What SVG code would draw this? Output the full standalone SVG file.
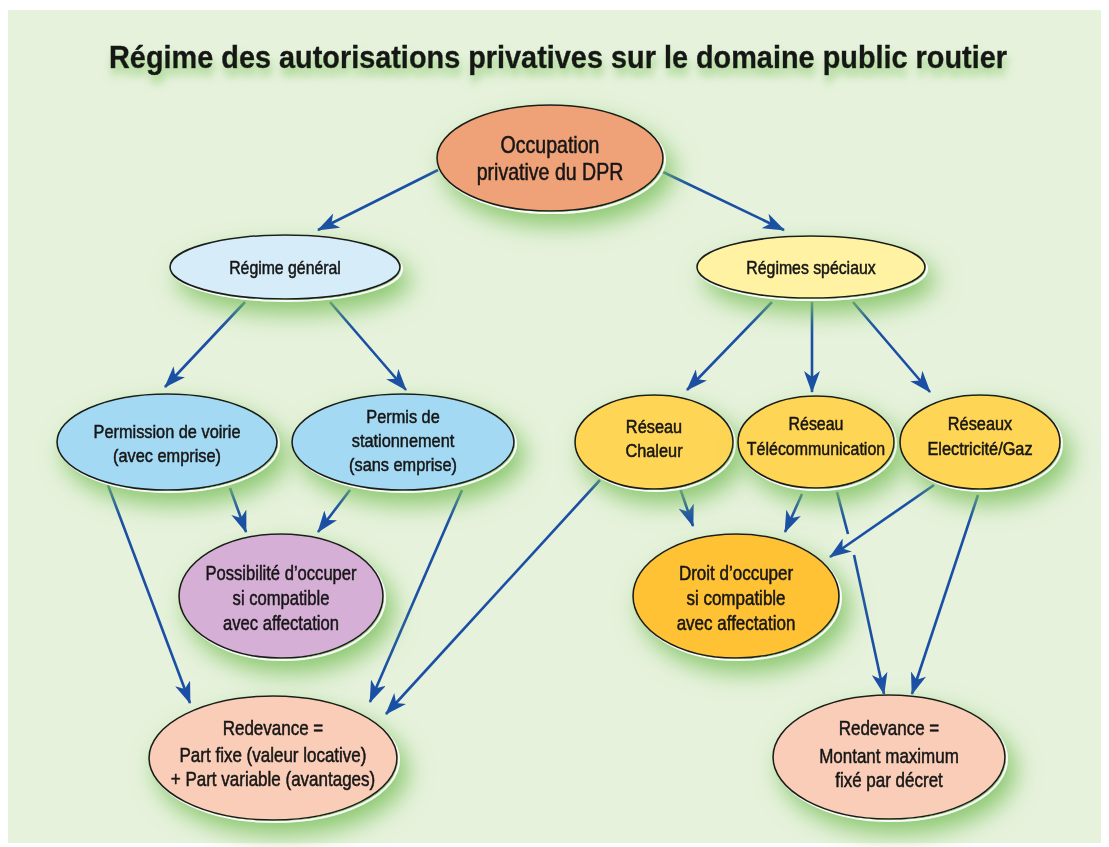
<svg xmlns="http://www.w3.org/2000/svg" width="1109" height="847" viewBox="0 0 1109 847">
<defs>
<filter id="glow" x="-40%" y="-40%" width="190%" height="200%">
<feGaussianBlur in="SourceAlpha" stdDeviation="12" result="b"/>
<feOffset in="b" dx="8" dy="12" result="o"/>
<feFlood flood-color="#7FC260" flood-opacity="0.9"/>
<feComposite in2="o" operator="in" result="s"/>
<feMerge><feMergeNode in="s"/><feMergeNode in="SourceGraphic"/></feMerge>
</filter>
<filter id="tglow" x="-5%" y="-50%" width="110%" height="220%">
<feGaussianBlur in="SourceAlpha" stdDeviation="4" result="b"/>
<feOffset in="b" dx="2" dy="8" result="o"/>
<feFlood flood-color="#8FCB74" flood-opacity="0.8"/>
<feComposite in2="o" operator="in" result="s"/>
<feMerge><feMergeNode in="s"/><feMergeNode in="SourceGraphic"/></feMerge>
</filter>
<marker id="ah" viewBox="0 0 22 16" refX="21" refY="8" markerWidth="22" markerHeight="16" markerUnits="userSpaceOnUse" orient="auto">
<path d="M0,0 L22,8 L0,16 L6,8 Z" fill="#1A4FA5"/>
</marker>
<style>
.n{stroke:#1a1a1a;stroke-width:1.6}
.sh{fill:none;stroke:#ffffff;stroke-width:2;opacity:0.9}
.t{font-family:"Liberation Sans",Arial,sans-serif;fill:#151515;stroke:#151515;stroke-width:0.5;text-anchor:middle}
.c line{stroke:#1A4FA5;stroke-width:2.6;marker-end:url(#ah)}
.c line.p{marker-end:none}
</style>
</defs>
<rect x="0" y="0" width="1109" height="847" fill="#ffffff"/>
<rect x="8" y="10" width="1093" height="833" fill="#E6F2DC"/>
<text x="558" y="68" class="t" font-size="32" font-weight="bold" stroke-width="0.9" textLength="898" lengthAdjust="spacingAndGlyphs" filter="url(#tglow)">Régime des autorisations privatives sur le domaine public routier</text>

<g class="c" id="connectors">
<line x1="438" y1="170" x2="318" y2="230"/>
<line x1="663" y1="172" x2="784" y2="230"/>
<line x1="245" y1="302" x2="165" y2="387"/>
<line x1="330" y1="302" x2="406" y2="390"/>
<line x1="772" y1="302" x2="687" y2="390"/>
<line x1="812" y1="302" x2="812" y2="392"/>
<line x1="853" y1="302" x2="930" y2="392"/>
<line x1="230" y1="488" x2="246" y2="532"/>
<line x1="350" y1="490" x2="318" y2="532"/>
<line x1="108" y1="485" x2="190" y2="703"/>
<line x1="462" y1="490" x2="370" y2="702"/>
<line x1="600" y1="480" x2="386" y2="714"/>
<line x1="680" y1="488" x2="693" y2="526"/>
<line x1="802" y1="494" x2="785" y2="532"/>
<line class="p" x1="837" y1="492" x2="848" y2="534"/>
<line x1="854" y1="555" x2="884" y2="694"/>
<line x1="934" y1="485" x2="830" y2="557"/>
<line x1="978" y1="495" x2="912" y2="694"/>
</g>

<g id="n-occupation" filter="url(#glow)">
<ellipse cx="552" cy="160" rx="113" ry="53" class="sh"/>
<ellipse cx="550" cy="158" rx="113" ry="53" fill="#EFA178" class="n"/>
<g transform="translate(550 0) scale(0.85 1)">
<text x="0" y="153" class="t" font-size="23">Occupation</text>
<text x="0" y="180" class="t" font-size="23">privative du DPR</text>
</g>
</g>

<g id="n-regime-general" filter="url(#glow)">
<ellipse cx="287" cy="269" rx="115" ry="32" class="sh"/>
<ellipse cx="285" cy="267" rx="115" ry="32" fill="#D6ECF8" class="n"/>
<g transform="translate(285 0) scale(0.88 1)">
<text x="0" y="274" class="t" font-size="18">Régime général</text>
</g>
</g>

<g id="n-regimes-speciaux" filter="url(#glow)">
<ellipse cx="813" cy="269" rx="114" ry="31" class="sh"/>
<ellipse cx="811" cy="267" rx="114" ry="31" fill="#FFF2A3" class="n"/>
<g transform="translate(811 0) scale(0.88 1)">
<text x="0" y="274" class="t" font-size="18">Régimes spéciaux</text>
</g>
</g>

<g id="n-permission" filter="url(#glow)">
<ellipse cx="169" cy="444" rx="110" ry="48" class="sh"/>
<ellipse cx="167" cy="442" rx="110" ry="48" fill="#A3D9F3" class="n"/>
<g transform="translate(167 0) scale(0.86 1)">
<text x="0" y="438" class="t" font-size="19">Permission de voirie</text>
<text x="0" y="462" class="t" font-size="19">(avec emprise)</text>
</g>
</g>

<g id="n-permis" filter="url(#glow)">
<ellipse cx="405" cy="444" rx="111" ry="48" class="sh"/>
<ellipse cx="403" cy="442" rx="111" ry="48" fill="#A3D9F3" class="n"/>
<g transform="translate(403 0) scale(0.86 1)">
<text x="0" y="423" class="t" font-size="19">Permis de</text>
<text x="0" y="447" class="t" font-size="19">stationnement</text>
<text x="0" y="471" class="t" font-size="19">(sans emprise)</text>
</g>
</g>

<g id="n-possibilite" filter="url(#glow)">
<ellipse cx="283" cy="598" rx="102" ry="62" class="sh"/>
<ellipse cx="281" cy="596" rx="102" ry="62" fill="#D6AFD6" class="n"/>
<g transform="translate(281 0) scale(0.83 1)">
<text x="0" y="580" class="t" font-size="20">Possibilité d’occuper</text>
<text x="0" y="605" class="t" font-size="20">si compatible</text>
<text x="0" y="630" class="t" font-size="20">avec  affectation</text>
</g>
</g>

<g id="n-chaleur" filter="url(#glow)">
<ellipse cx="656" cy="444" rx="79" ry="47" class="sh"/>
<ellipse cx="654" cy="442" rx="79" ry="47" fill="#FFD555" class="n"/>
<g transform="translate(654 0) scale(0.86 1)">
<text x="0" y="433" class="t" font-size="19">Réseau</text>
<text x="0" y="457" class="t" font-size="19">Chaleur</text>
</g>
</g>

<g id="n-telecom" filter="url(#glow)">
<ellipse cx="818" cy="444" rx="78" ry="46" class="sh"/>
<ellipse cx="816" cy="442" rx="78" ry="46" fill="#FFD555" class="n"/>
<g transform="translate(816 0) scale(0.84 1)">
<text x="0" y="430" class="t" font-size="19">Réseau</text>
<text x="0" y="455" class="t" font-size="19">Télécommunication</text>
</g>
</g>

<g id="n-electricite" filter="url(#glow)">
<ellipse cx="982" cy="444" rx="80" ry="47" class="sh"/>
<ellipse cx="980" cy="442" rx="80" ry="47" fill="#FFD555" class="n"/>
<g transform="translate(980 0) scale(0.86 1)">
<text x="0" y="430" class="t" font-size="19">Réseaux</text>
<text x="0" y="455" class="t" font-size="19">Electricité/Gaz</text>
</g>
</g>

<g id="n-droit" filter="url(#glow)">
<ellipse cx="738" cy="598" rx="103" ry="62" class="sh"/>
<ellipse cx="736" cy="596" rx="103" ry="62" fill="#FFC235" class="n"/>
<g transform="translate(736 0) scale(0.85 1)">
<text x="0" y="580" class="t" font-size="20">Droit d’occuper</text>
<text x="0" y="605" class="t" font-size="20">si compatible</text>
<text x="0" y="630" class="t" font-size="20">avec  affectation</text>
</g>
</g>

<g id="n-redevance-1" filter="url(#glow)">
<ellipse cx="275" cy="760" rx="124" ry="62" class="sh"/>
<ellipse cx="273" cy="758" rx="124" ry="62" fill="#F9CDB8" class="n"/>
<g transform="translate(273 0) scale(0.85 1)">
<text x="0" y="735" class="t" font-size="20">Redevance =</text>
<text x="0" y="762" class="t" font-size="20">Part fixe (valeur locative)</text>
<text x="0" y="786" class="t" font-size="20">+ Part variable (avantages)</text>
</g>
</g>

<g id="n-redevance-2" filter="url(#glow)">
<ellipse cx="891" cy="759" rx="116" ry="62" class="sh"/>
<ellipse cx="889" cy="757" rx="116" ry="62" fill="#F9CDB8" class="n"/>
<g transform="translate(889 0) scale(0.85 1)">
<text x="0" y="735" class="t" font-size="20">Redevance =</text>
<text x="0" y="763" class="t" font-size="20">Montant maximum</text>
<text x="0" y="787" class="t" font-size="20">fixé par décret</text>
</g>
</g>
</svg>
